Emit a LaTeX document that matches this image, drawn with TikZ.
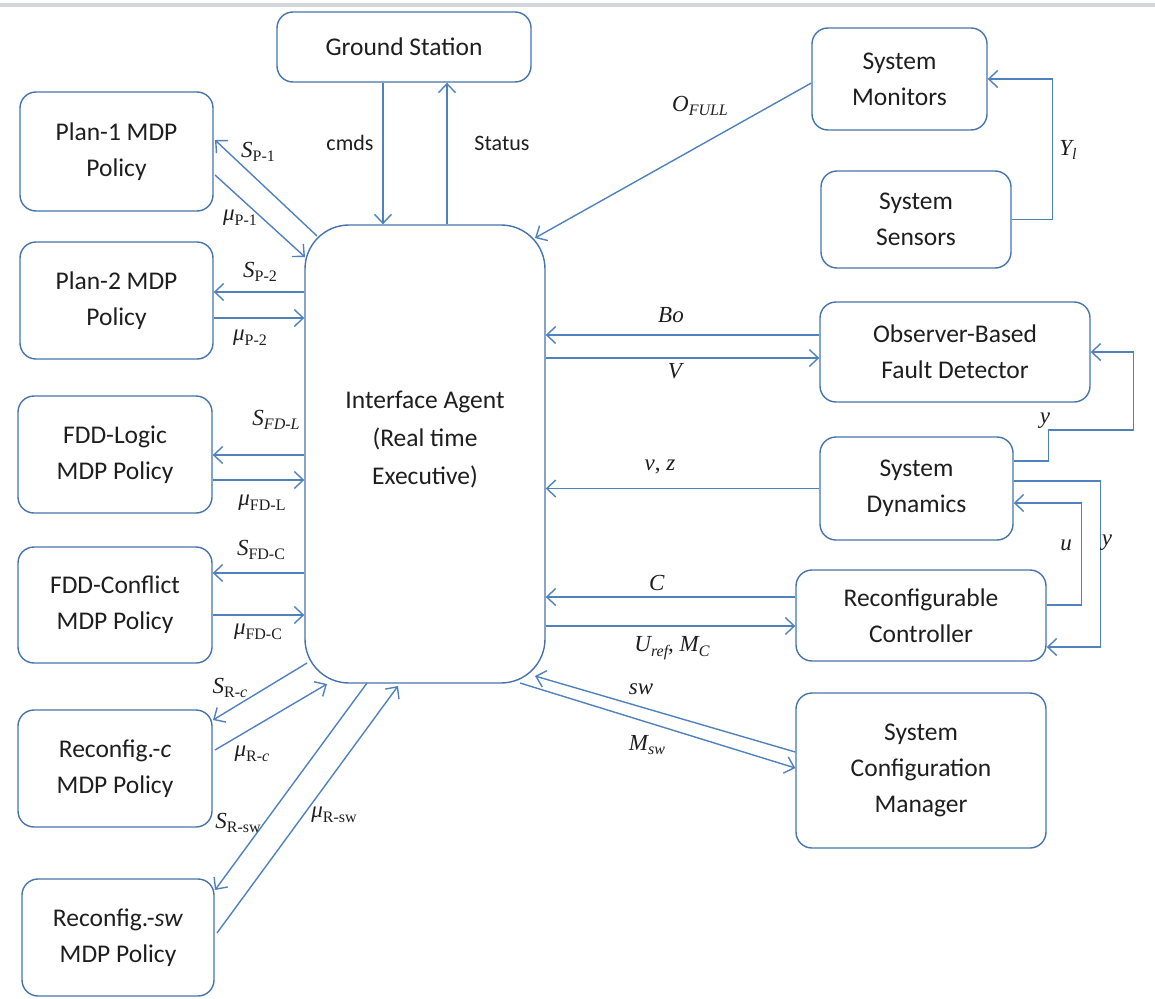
\documentclass[tikz,border=0pt]{standalone}
\usepackage{fontspec}
\setmainfont{Carlito}
\newfontfamily\lblfont{Liberation Serif}
\usetikzlibrary{arrows.meta,calc}
\definecolor{linkblue}{RGB}{79,129,189}
\definecolor{edgeblue}{RGB}{70,115,172}
\definecolor{inkgray}{RGB}{30,30,30}
\definecolor{rulegray}{RGB}{212,216,220}
% symbol with lowered subscript, serif
\newcommand{\sym}[2]{{\lblfont\itshape #1}\raisebox{-0.45ex}{\lblfont\fontsize{16}{16}\selectfont #2}}
\newcommand{\gmu}{{\lblfont\itshape μ}}
\begin{document}
\begin{tikzpicture}[x=1pt,y=-1pt,
  block/.style={draw=edgeblue, line width=1.4pt, rounded corners=16pt, align=center,
    font=\fontsize{25.5}{36}\selectfont, text=inkgray, inner sep=0pt},
  link/.style={draw=linkblue, line width=1.4pt},
  arr/.style={link, -{Straight Barb[length=9pt,width=17pt,line width=1.4pt]}},
  lbl/.style={font=\lblfont\fontsize{23}{23}\selectfont, text=inkgray, inner sep=1pt},
  plain/.style={font=\fontsize{22}{22}\selectfont, text=inkgray, inner sep=1pt}]
\useasboundingbox (0,0) rectangle (1155,998);
\draw[rulegray, line width=4pt] (0,5) -- (1155,5);

% blocks
\node[block, minimum width=254pt, minimum height=70pt] (gs) at (404,47) {Ground Station};
\node[block, minimum width=193pt, minimum height=119pt] (p1) at (116.5,151.5) {Plan-1 MDP\\Policy};
\node[block, minimum width=193pt, minimum height=117pt] (p2) at (116.5,300.5) {Plan-2 MDP\\Policy};
\node[block, minimum width=194pt, minimum height=117pt] (fl) at (115,454.5) {FDD-Logic\\MDP Policy};
\node[block, minimum width=194pt, minimum height=116pt] (fc) at (115,605) {FDD-Conflict\\MDP Policy};
\node[block, minimum width=194pt, minimum height=117pt] (rc) at (115,768.5) {Reconfig.-\textit{c}\\MDP Policy};
\node[block, minimum width=192pt, minimum height=117pt] (rs) at (118,937.5) {Reconfig.-\textit{sw}\\MDP Policy};
\node[block, rounded corners=44pt, minimum width=240pt, minimum height=458pt,
  font=\fontsize{25.5}{38}\selectfont, text depth=0pt] (ia) at (425,454) {};
\node[plain, font=\fontsize{25.5}{38}\selectfont, align=center] (iatext) at (425,440) {Interface Agent\\(Real time\\Executive)};
\node[block, minimum width=175pt, minimum height=102pt] (mon) at (899.5,79) {System\\Monitors};
\node[block, minimum width=190pt, minimum height=97pt] (sen) at (916,219.5) {System\\Sensors};
\node[block, minimum width=270pt, minimum height=100pt] (obs) at (955,352) {Observer-Based\\Fault Detector};
\node[block, minimum width=193pt, minimum height=103pt] (dyn) at (916.5,488.5) {System\\Dynamics};
\node[block, minimum width=250pt, minimum height=91pt] (ctl) at (921,615.5) {Reconfigurable\\Controller};
\node[block, minimum width=250pt, minimum height=155pt] (scm) at (921,770.5) {System\\Configuration\\Manager};

% level lines for horizontal links
\coordinate (yP2s) at (0,292);   \coordinate (yP2m) at (0,318);
\coordinate (yFLs) at (0,455);   \coordinate (yFLm) at (0,480);
\coordinate (yFCs) at (0,573);   \coordinate (yFCm) at (0,615);
\coordinate (yBo) at (0,335);    \coordinate (yV) at (0,358);
\coordinate (yC) at (0,597);     \coordinate (yU) at (0,626);
\coordinate (yOf) at (0,83);
\coordinate (xcmd) at (383,0);   \coordinate (xstat) at (447,0);
% ends on the rounded corners of the interface agent
\coordinate (iaP1s) at (317,236);
\coordinate (iaP1m) at (305,257);
\coordinate (iaOf) at (535,238);
\coordinate (iaRcs) at (307,663);
\coordinate (iaRcm) at (327,684);
\coordinate (iaSw) at (535,676);
\coordinate (iaMsw) at (520,683);
\coordinate (p1s) at (215,140);
\coordinate (p1m) at (215,175);
\coordinate (rcs) at (213,720);
\coordinate (rcm) at (215,750);
\coordinate (rss) at (215,890);
\coordinate (rsm) at (217,933);
\coordinate (iaRss) at (367,683);
\coordinate (iaRsm) at (398,686);

% ground station
\draw[arr] (gs.south -| xcmd) -- (ia.north -| xcmd);
\draw[arr] (ia.north -| xstat) -- (gs.south -| xstat);
\node[plain] at (350,143) {cmds};
\node[plain] at (502,143) {Status};

% policies on the left
\draw[arr] (iaP1s) -- (p1s);
\draw[arr] (p1m) -- (iaP1m);
\node[lbl] at (258,152) {\sym{S}{P-1}};
\node[lbl] at (240,218) {\gmu\sym{}{P-1}};
\draw[arr] (ia.west |- yP2s) -- (p2.east |- yP2s);
\draw[arr] (p2.east |- yP2m) -- (ia.west |- yP2m);
\node[lbl] at (260,272) {\sym{S}{P-2}};
\node[lbl] at (250,338) {\gmu\sym{}{P-2}};
\draw[arr] (ia.west |- yFLs) -- (fl.east |- yFLs);
\draw[arr] (fl.east |- yFLm) -- (ia.west |- yFLm);
\node[lbl] at (276,420) {\sym{S}{\itshape FD-L}};
\node[lbl] at (262,503) {\gmu\sym{}{FD-L}};
\draw[arr] (ia.west |- yFCs) -- (fc.east |- yFCs);
\draw[arr] (fc.east |- yFCm) -- (ia.west |- yFCm);
\node[lbl] at (261,550) {\sym{S}{FD-C}};
\node[lbl] at (258,632) {\gmu\sym{}{FD-C}};
\draw[arr] (iaRcs) -- (rcs);
\draw[arr] (rcm) -- (iaRcm);
\node[lbl] at (230,688) {\sym{S}{R-\textit{c}}};
\node[lbl] at (252,754) {\gmu\sym{}{R-\textit{c}}};
\draw[arr] (iaRss) -- (rss);
\draw[arr] (rsm) -- (iaRsm);
\node[lbl] at (238,823) {\sym{S}{R-sw}};
\node[lbl] at (334,815) {\gmu\sym{}{R-sw}};

% monitors and sensors
\draw[arr] (mon.west |- yOf) -- (iaOf);
\node[lbl] at (700,106) {\sym{O}{\itshape FULL}};
\draw[arr] (sen.east) -- ++(41,0) |- (mon.east);
\node[lbl] at (1068,150) {\sym{Y}{\itshape l}};

% observer
\draw[arr] (obs.west |- yBo) -- (ia.east |- yBo);
\draw[arr] (ia.east |- yV) -- (obs.west |- yV);
\node[lbl] at (671,315) {\textit{Bo}};
\node[lbl] at (676,371) {\textit{V}};

% system dynamics
\draw[arr] (dyn.west) -- (ia.east |- dyn.west);
\node[lbl] at (660,467) {\textit{v}, \textit{z}};
\draw[arr] ($(dyn.east)+(0,-27.5)$) -- ++(35,0) -- ++(0,-31) -- ++(85,0) |- (obs.east);
\node[lbl] at (1045,421) {\textit{y}};
\draw[arr] ($(dyn.east)+(0,-7.5)$) -- ++(87,0) |- ($(ctl.east)+(0,31.5)$);
\node[lbl] at (1107,543) {\textit{y}};

% controller
\draw[arr] ($(ctl.east)+(0,-10.5)$) -- ++(35,0) |- ($(dyn.east)+(0,14.5)$);
\node[lbl] at (1066,545) {\textit{u}};
\draw[arr] (ctl.west |- yC) -- (ia.east |- yC);
\draw[arr] (ia.east |- yU) -- (ctl.west |- yU);
\node[lbl] at (657,583) {\textit{C}};
\node[lbl] at (672,648) {\sym{U}{\itshape ref}, \sym{M}{\itshape C}};

% configuration manager
\draw[arr] ($(scm.west)+(0,-18.5)$) -- (iaSw);
\draw[arr] (iaMsw) -- ($(scm.west)+(0,-2.5)$);
\node[lbl] at (641,689) {\textit{sw}};
\node[lbl] at (647,745) {\sym{M}{\itshape sw}};
\end{tikzpicture}
\end{document}
